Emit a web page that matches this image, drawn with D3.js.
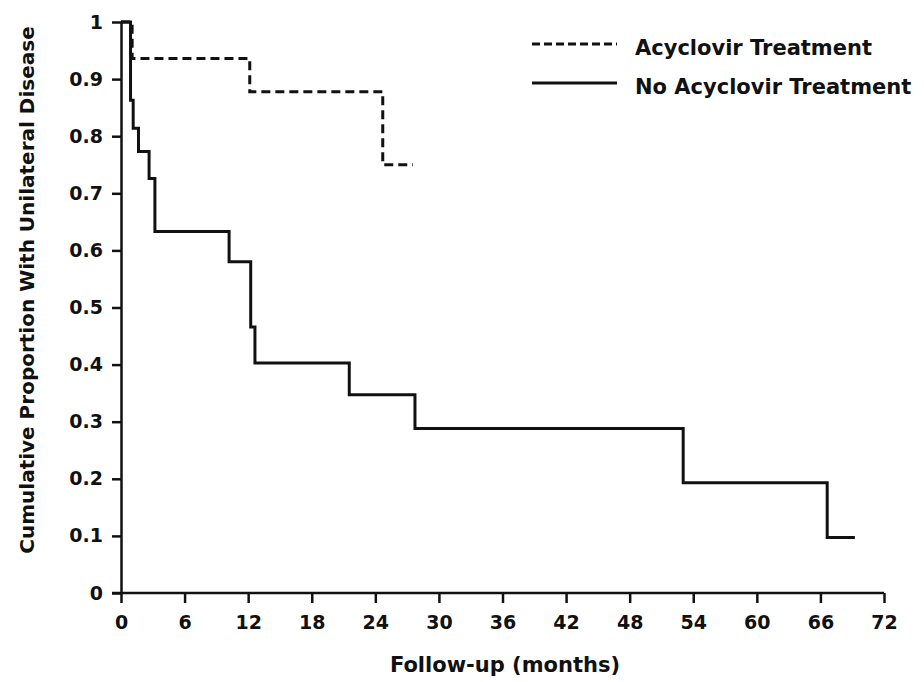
<!DOCTYPE html>
<html>
<head>
<meta charset="utf-8">
<script src="https://cdn.jsdelivr.net/npm/d3@7"></script>
<style>
  body { margin: 0; background: #fff; }
  svg { display: block; font-family: "DejaVu Sans", sans-serif; font-weight: bold; }
</style>
</head>
<body>
<div id="chart"></div>
<script>
// follow-up months where each step starts, and the proportion from there on
var acycTimes = [0, 1.05, 12.15, 24.7, 27.55];
var acycValues = [1, 0.936, 0.878, 0.75, 0.75];

var noAcycTimes = [0, 0.9, 1.15, 1.65, 2.65, 3.2, 10.2, 12.24, 12.64, 21.54, 27.74, 53.05, 66.64, 69.25];
var noAcycValues = [1, 0.863, 0.814, 0.773, 0.726, 0.633, 0.58, 0.466, 0.403, 0.347, 0.288, 0.193, 0.097, 0.097];

var xTicks = [0, 6, 12, 18, 24, 30, 36, 42, 48, 54, 60, 66, 72];
var yTicks = [0, 0.1, 0.2, 0.3, 0.4, 0.5, 0.6, 0.7, 0.8, 0.9, 1];

var seriesNames = ['Acyclovir Treatment', 'No Acyclovir Treatment'];

var width = 924, height = 682;
var svg = d3.select('#chart').append('svg')
  .attr('width', width)
  .attr('height', height);

var x = d3.scaleLinear().domain([0, 72]).range([121, 884]);
var y = d3.scaleLinear().domain([0, 1]).range([593, 22]);

var toPoints = function(times, values) {
  return times.map(function(t, i) { return [t, values[i]]; });
};

// axes
var xAxis = svg.append('g')
  .attr('transform', 'translate(0,' + y(0) + ')')
  .call(d3.axisBottom(x).tickValues(xTicks).tickSize(10).tickSizeOuter(0).tickPadding(13)
    .tickFormat(function(d) { return d; }));

var yAxis = svg.append('g')
  .attr('transform', 'translate(' + x(0) + ',0)')
  .call(d3.axisLeft(y).tickValues(yTicks).tickSize(9).tickSizeOuter(0).tickPadding(9)
    .tickFormat(function(d) { return d; }));

[xAxis, yAxis].forEach(function(g) {
  g.select('.domain').attr('stroke', '#111').attr('stroke-width', 2.5);
  g.selectAll('.tick line').attr('stroke', '#111').attr('stroke-width', 2.5);
  g.selectAll('.tick text')
    .attr('fill', '#111')
    .style('font-family', '"DejaVu Sans", sans-serif')
    .style('font-weight', 'bold')
    .style('font-size', '19px');
});
xAxis.select('.domain').attr('d', 'M' + (x(0) - 9) + ',0H' + x(72));
xAxis.selectAll('.tick text').attr('dy', '0.71em');

// curves
var line = d3.line()
  .x(function(d) { return x(d[0]); })
  .y(function(d) { return y(d[1]); })
  .curve(d3.curveStepAfter);

svg.append('path')
  .datum(toPoints(noAcycTimes, noAcycValues))
  .attr('d', line)
  .attr('fill', 'none')
  .attr('stroke', '#111')
  .attr('stroke-width', 3);

svg.append('path')
  .datum(toPoints(acycTimes, acycValues))
  .attr('d', line)
  .attr('fill', 'none')
  .attr('stroke', '#111')
  .attr('stroke-width', 3)
  .attr('stroke-dasharray', '9,5');

// legend
var legend = svg.append('g');
[44, 83].forEach(function(ly, i) {
  legend.append('line')
    .attr('x1', 532).attr('x2', 617)
    .attr('y1', ly).attr('y2', ly)
    .attr('stroke', '#111')
    .attr('stroke-width', 3)
    .attr('stroke-dasharray', i === 0 ? '8,4' : null);
  legend.append('text')
    .attr('x', 635)
    .attr('y', ly + 11)
    .attr('fill', '#111')
    .style('font-size', '21px')
    .text(seriesNames[i]);
});

// axis titles
svg.append('text')
  .attr('x', 505)
  .attr('y', 672)
  .attr('text-anchor', 'middle')
  .attr('fill', '#111')
  .style('font-size', '21px')
  .text('Follow-up (months)');

svg.append('text')
  .attr('transform', 'translate(34,' + 290 + ') rotate(-90)')
  .attr('text-anchor', 'middle')
  .attr('fill', '#111')
  .style('font-size', '20px')
  .text('Cumulative Proportion With Unilateral Disease');
</script>
</body>
</html>
